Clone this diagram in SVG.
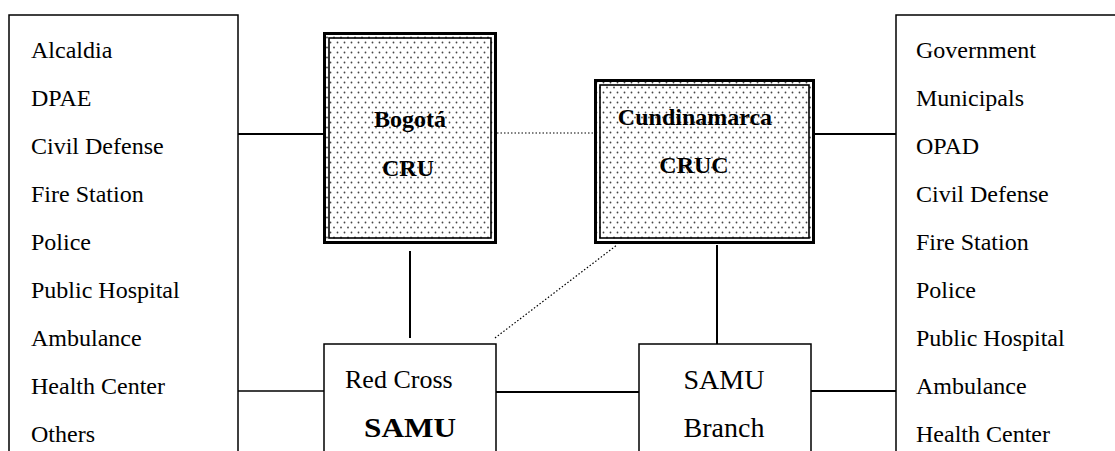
<svg xmlns="http://www.w3.org/2000/svg" width="1115" height="451" viewBox="0 0 1115 451">
<style>
.box{fill:#fff;stroke:#000;stroke-width:1.5}
.t{font-family:"Liberation Serif","Times New Roman",serif;font-size:24px;fill:#000}
.b{font-family:"Liberation Serif","Times New Roman",serif;font-size:24px;font-weight:bold;fill:#000}
.c{stroke:#000;stroke-width:2;fill:none}
.thin{stroke:#000;stroke-width:1.3;fill:none}
.dot{stroke:#000;stroke-width:1.2;stroke-dasharray:1.5 2;fill:none}
.outer{fill:url(#dots);stroke:#000;stroke-width:3}
.inner{fill:none;stroke:#000;stroke-width:1.6}
</style>
<defs>
<pattern id="dots" width="7" height="10" patternUnits="userSpaceOnUse">
<rect width="7" height="10" fill="#fff"/>
<circle cx="1.5" cy="2.5" r="0.9" fill="#444"/>
<circle cx="5" cy="7.5" r="0.9" fill="#444"/>
</pattern>
</defs>
<rect width="1115" height="451" fill="#fff"/>

<g id="connectors">
<line class="c" x1="238" y1="134" x2="323" y2="134"/>
<line class="dot" x1="497" y1="133" x2="594" y2="133"/>
<line class="c" x1="815" y1="134" x2="896" y2="134"/>
<line class="c" x1="410" y1="251" x2="410" y2="338"/>
<line class="c" x1="717" y1="245" x2="717" y2="344"/>
<line class="dot" x1="495" y1="338" x2="617" y2="245"/>
<line class="thin" x1="238" y1="391" x2="324" y2="391"/>
<line class="c" x1="496" y1="392" x2="639" y2="392"/>
<line class="c" x1="811" y1="391" x2="896" y2="391"/>
</g>

<g id="left-list">
<path class="box" d="M9,452 V15 H238 V452"/>
<text class="t" x="31" y="58">Alcaldia</text>
<text class="t" x="31" y="106">DPAE</text>
<text class="t" x="31" y="154">Civil Defense</text>
<text class="t" x="31" y="202">Fire Station</text>
<text class="t" x="31" y="250">Police</text>
<text class="t" x="31" y="298">Public Hospital</text>
<text class="t" x="31" y="346">Ambulance</text>
<text class="t" x="31" y="394">Health Center</text>
<text class="t" x="31" y="442">Others</text>
</g>

<g id="right-list">
<path class="box" d="M1116,15 H896 V452"/>
<text class="t" x="916" y="58">Government</text>
<text class="t" x="916" y="106">Municipals</text>
<text class="t" x="916" y="154">OPAD</text>
<text class="t" x="916" y="202">Civil Defense</text>
<text class="t" x="916" y="250">Fire Station</text>
<text class="t" x="916" y="298">Police</text>
<text class="t" x="916" y="346">Public Hospital</text>
<text class="t" x="916" y="394">Ambulance</text>
<text class="t" x="916" y="442">Health Center</text>
</g>

<g id="bogota-cru">
<rect class="outer" x="324.5" y="33.5" width="171" height="209"/>
<rect class="inner" x="329" y="38" width="162" height="200"/>
<text class="b" x="410" y="127" text-anchor="middle">Bogotá</text>
<text class="b" x="408" y="176" text-anchor="middle">CRU</text>
</g>

<g id="cundinamarca-cruc">
<rect class="outer" x="595.5" y="80.5" width="218" height="162"/>
<rect class="inner" x="600" y="85" width="209" height="153"/>
<text class="b" x="695" y="125" text-anchor="middle">Cundinamarca</text>
<text class="b" x="694" y="173" text-anchor="middle">CRUC</text>
</g>

<g id="red-cross-samu">
<path class="box" d="M324,452 V344 H496 V452"/>
<text class="t" x="345" y="388" style="font-size:26px">Red Cross</text>
<text class="b" x="364" y="437" style="font-size:28px" textLength="92" lengthAdjust="spacingAndGlyphs">SAMU</text>
</g>

<g id="samu-branch">
<path class="box" d="M639,452 V344 H811 V452"/>
<text class="t" x="724" y="389" text-anchor="middle" style="font-size:28px">SAMU</text>
<text class="t" x="724" y="437" text-anchor="middle" style="font-size:28px">Branch</text>
</g>
</svg>
